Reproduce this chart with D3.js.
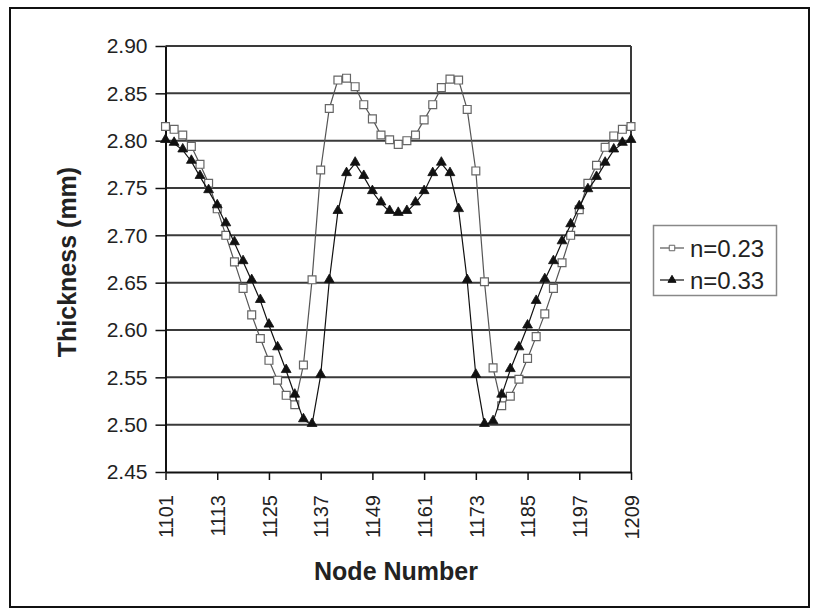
<!DOCTYPE html>
<html>
<head>
<meta charset="utf-8">
<script src="https://cdn.jsdelivr.net/npm/d3@7/dist/d3.min.js"></script>
<style>
  html, body { margin: 0; padding: 0; background: #fff; }
  svg { display: block; }
  text { font-family: "Liberation Sans", Arial, Helvetica, sans-serif; fill: #222; }
</style>
</head>
<body>
<svg id="chart" width="818" height="614"></svg>
<script>
// Node numbers along the strip (every second node)
const nodes = [
  1101, 1103, 1105, 1107, 1109, 1111, 1113, 1115, 1117, 1119,
  1121, 1123, 1125, 1127, 1129, 1131, 1133, 1135, 1137, 1139,
  1141, 1143, 1145, 1147, 1149, 1151, 1153, 1155, 1157, 1159,
  1161, 1163, 1165, 1167, 1169, 1171, 1173, 1175, 1177, 1179,
  1181, 1183, 1185, 1187, 1189, 1191, 1193, 1195, 1197, 1199,
  1201, 1203, 1205, 1207, 1209
];

// Thickness (mm) for strain-hardening exponent n = 0.23
const thicknessN023 = [
  2.815, 2.812, 2.806, 2.794, 2.775, 2.755, 2.728, 2.700, 2.672, 2.644,
  2.616, 2.591, 2.568, 2.547, 2.531, 2.521, 2.563, 2.653, 2.769, 2.834,
  2.864, 2.866, 2.857, 2.838, 2.823, 2.806, 2.801, 2.796, 2.800, 2.806,
  2.822, 2.838, 2.856, 2.865, 2.864, 2.833, 2.768, 2.651, 2.560, 2.520,
  2.530, 2.548, 2.570, 2.593, 2.617, 2.644, 2.671, 2.700, 2.727, 2.755,
  2.774, 2.793, 2.805, 2.812, 2.815
];

// Thickness (mm) for n = 0.33
const thicknessN033 = [
  2.800, 2.797, 2.790, 2.778, 2.762, 2.747, 2.731, 2.712, 2.692, 2.672,
  2.652, 2.631, 2.605, 2.581, 2.557, 2.531, 2.505, 2.500, 2.552, 2.652,
  2.725, 2.765, 2.776, 2.762, 2.746, 2.734, 2.725, 2.723, 2.725, 2.734,
  2.746, 2.765, 2.776, 2.765, 2.727, 2.652, 2.552, 2.500, 2.503, 2.531,
  2.558, 2.581, 2.604, 2.630, 2.653, 2.672, 2.693, 2.711, 2.730, 2.748,
  2.761, 2.776, 2.790, 2.797, 2.800
];

const seriesNames = ["n=0.23", "n=0.33"];

const yTicks = [2.45, 2.50, 2.55, 2.60, 2.65, 2.70, 2.75, 2.80, 2.85, 2.90];
const xTicks = [1101, 1113, 1125, 1137, 1149, 1161, 1173, 1185, 1197, 1209];

const svg = d3.select("#chart");

// outer frame
svg.append("rect")
  .attr("x", 10).attr("y", 8).attr("width", 799).attr("height", 599)
  .attr("fill", "none").attr("stroke", "#111").attr("stroke-width", 2);

const plot = { left: 165.5, right: 631, top: 46, bottom: 472 };

const x = d3.scaleLinear().domain([1101, 1209]).range([plot.left, plot.right]);
const y = d3.scaleLinear().domain([2.45, 2.90]).range([plot.bottom, plot.top]);

// horizontal gridlines (top one closes the plot area)
svg.append("g")
  .selectAll("line")
  .data(yTicks.filter(v => v > 2.45))
  .join("line")
  .attr("x1", plot.left).attr("x2", plot.right)
  .attr("y1", d => y(d)).attr("y2", d => y(d))
  .attr("stroke", "#3a3a3a").attr("stroke-width", 2);

// right edge of the plot area
svg.append("line")
  .attr("x1", plot.right).attr("x2", plot.right)
  .attr("y1", plot.top).attr("y2", plot.bottom)
  .attr("stroke", "#3a3a3a").attr("stroke-width", 2);

// y axis
const yAxis = svg.append("g")
  .attr("transform", `translate(${plot.left},0)`)
  .call(d3.axisLeft(y).tickValues(yTicks).tickFormat(d3.format(".2f"))
    .tickSize(10).tickSizeOuter(0).tickPadding(8));
yAxis.select(".domain").attr("stroke", "#111").attr("stroke-width", 2);
yAxis.selectAll(".tick line").attr("stroke", "#111").attr("stroke-width", 1.5);
yAxis.selectAll(".tick text")
  .attr("font-size", 21).attr("fill", "#222")
  .style("font-family", '"Liberation Sans", Arial, sans-serif');

// x axis
const xAxis = svg.append("g")
  .attr("transform", `translate(0,${plot.bottom})`)
  .call(d3.axisBottom(x).tickValues(xTicks).tickFormat(d3.format("d"))
    .tickSize(8).tickSizeOuter(0));
xAxis.select(".domain").attr("stroke", "#111").attr("stroke-width", 2);
xAxis.selectAll(".tick line").attr("stroke", "#111").attr("stroke-width", 1.5);
xAxis.selectAll(".tick text")
  .attr("font-size", 20).attr("fill", "#222")
  .style("font-family", '"Liberation Sans", Arial, sans-serif')
  .attr("transform", "rotate(-90)")
  .attr("text-anchor", "end")
  .attr("x", -23).attr("y", 0).attr("dy", "0.36em");

// axis titles
svg.append("text")
  .attr("transform", "translate(76,262) rotate(-90)")
  .attr("text-anchor", "middle")
  .attr("font-size", 25).attr("font-weight", "bold")
  .text("Thickness (mm)");

svg.append("text")
  .attr("x", 396).attr("y", 580)
  .attr("text-anchor", "middle")
  .attr("font-size", 25).attr("font-weight", "bold")
  .text("Node Number");

// series
const line = d3.line().x(d => x(d[0])).y(d => y(d[1]));
const squareSym = d3.symbol().type(d3.symbolSquare).size(62);
const triSym = d3.symbol().type(d3.symbolTriangle).size(42);

const dataA = nodes.map((n, i) => [n, thicknessN023[i]]);
const dataB = nodes.map((n, i) => [n, thicknessN033[i]]);

svg.append("path").datum(dataA)
  .attr("d", line).attr("fill", "none")
  .attr("stroke", "#555").attr("stroke-width", 1.2);
svg.append("g").selectAll("path").data(dataA).join("path")
  .attr("transform", d => `translate(${x(d[0])},${y(d[1])})`)
  .attr("d", squareSym)
  .attr("fill", "#fff").attr("stroke", "#666").attr("stroke-width", 1.2);

svg.append("path").datum(dataB)
  .attr("d", line).attr("fill", "none")
  .attr("stroke", "#111").attr("stroke-width", 1.2);
svg.append("g").selectAll("path").data(dataB).join("path")
  .attr("transform", d => `translate(${x(d[0])},${y(d[1]) - 1})`)
  .attr("d", triSym)
  .attr("fill", "#111").attr("stroke", "#111").attr("stroke-width", 0.8);

// legend
const legend = svg.append("g");
legend.append("rect")
  .attr("x", 653.5).attr("y", 225.5).attr("width", 123).attr("height", 70)
  .attr("fill", "#fff").attr("stroke", "#888").attr("stroke-width", 1.5);

const legendRows = [
  { name: seriesNames[0], y: 248, sym: d3.symbol().type(d3.symbolSquare).size(30), fill: "#fff", stroke: "#666", lineStroke: "#555" },
  { name: seriesNames[1], y: 280, sym: d3.symbol().type(d3.symbolTriangle).size(28), fill: "#111", stroke: "#111", lineStroke: "#111" }
];
legendRows.forEach(r => {
  legend.append("line")
    .attr("x1", 660).attr("x2", 684).attr("y1", r.y).attr("y2", r.y)
    .attr("stroke", r.lineStroke).attr("stroke-width", 1.2);
  legend.append("path")
    .attr("transform", `translate(672,${r.y})`)
    .attr("d", r.sym())
    .attr("fill", r.fill).attr("stroke", r.stroke).attr("stroke-width", 1);
  legend.append("text")
    .attr("x", 690).attr("y", r.y).attr("dy", "0.36em")
    .attr("font-size", 24)
    .text(r.name);
});
</script>
</body>
</html>
